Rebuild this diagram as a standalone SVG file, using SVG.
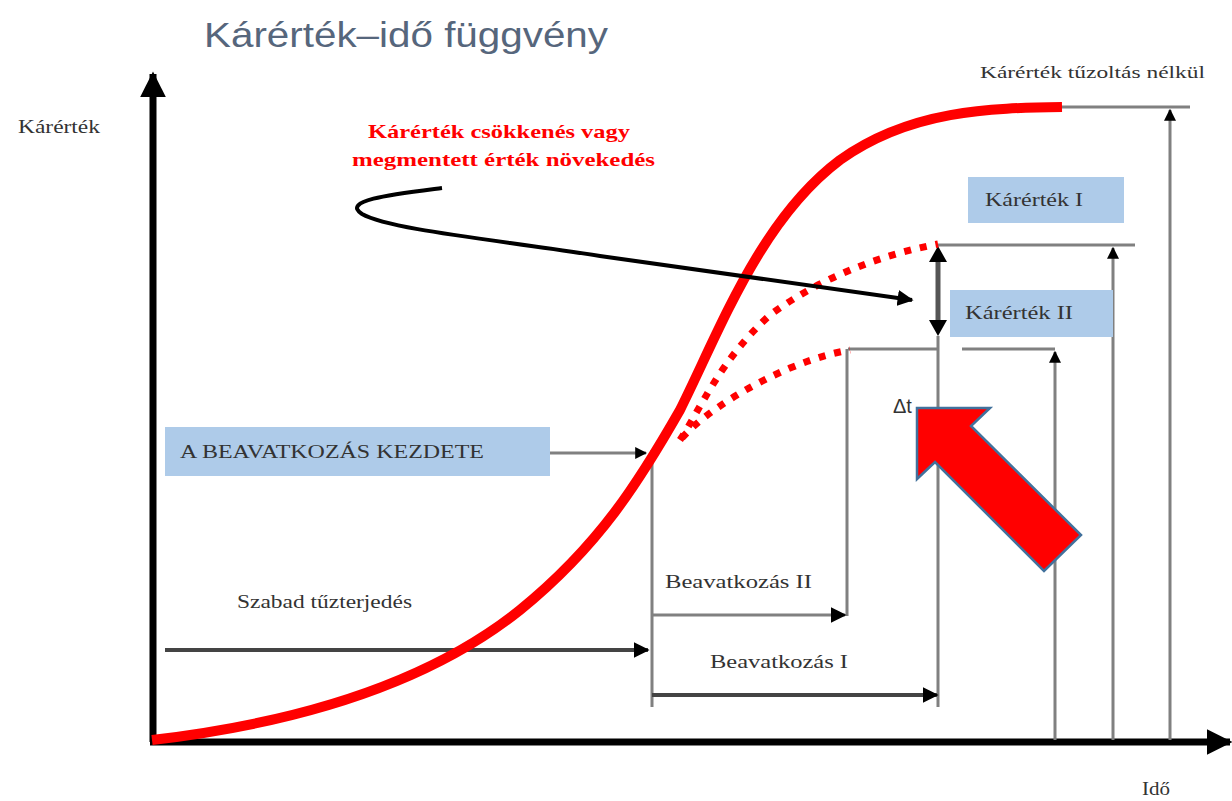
<svg xmlns="http://www.w3.org/2000/svg" width="1232" height="801" viewBox="0 0 1232 801">
<style>
.serif{font-family:"Liberation Serif","DejaVu Serif",serif;fill:#333}
.gl{stroke:#808080;stroke-width:3;fill:none}
.dl{stroke:#444;stroke-width:4;fill:none}
.box{fill:#aecbe9}
.dot{stroke:#ff0000;stroke-width:7;fill:none;stroke-dasharray:7 9}
.red{font-family:"Liberation Serif","DejaVu Serif",serif;font-weight:bold;font-size:19px;fill:#ff0000}
</style>
<defs>
<marker id="ah" viewBox="0 0 10 10" refX="9" refY="5" markerWidth="5" markerHeight="5" orient="auto" markerUnits="userSpaceOnUse"><path d="M0 0 L10 5 L0 10 z" fill="#000"/></marker>
<marker id="ahs" viewBox="0 0 10 10" refX="9" refY="5" markerWidth="12" markerHeight="12" orient="auto" markerUnits="userSpaceOnUse"><path d="M0 0 L10 5 L0 10 z" fill="#000"/></marker>
<marker id="ahm" viewBox="0 0 10 10" refX="9" refY="5" markerWidth="16" markerHeight="16" orient="auto" markerUnits="userSpaceOnUse"><path d="M0 0 L10 5 L0 10 z" fill="#000"/></marker>
<marker id="ahb" viewBox="0 0 10 10" refX="9" refY="5" markerWidth="26" markerHeight="26" orient="auto" markerUnits="userSpaceOnUse"><path d="M0 0 L10 5 L0 10 z" fill="#000"/></marker>
</defs>

<text x="204" y="47" font-family="Liberation Sans, Arial, sans-serif" font-size="35" fill="#56667c" textLength="404" lengthAdjust="spacingAndGlyphs">Kárérték–idő függvény</text>

<g id="axes">
<line x1="153" y1="742" x2="153" y2="74" stroke="#000" stroke-width="7" marker-end="url(#ahb)"/>
<line x1="150" y1="742" x2="1230" y2="742" stroke="#000" stroke-width="7" marker-end="url(#ahb)"/>
<text class="serif" x="18" y="133" font-size="18" textLength="82" lengthAdjust="spacingAndGlyphs">Kárérték</text>
<text class="serif" x="1142" y="795" font-size="18" textLength="28" lengthAdjust="spacingAndGlyphs">Idő</text>
</g>

<g id="connectors">
<path class="gl" d="M1060 107 H1190"/>
<path class="gl" d="M1170 740 V110" marker-end="url(#ahs)"/>
<path class="gl" d="M938 245 H1135"/>
<path class="gl" d="M1113 740 V248" marker-end="url(#ahs)"/>
<path class="gl" d="M848 349 H938"/>
<path class="gl" d="M962 349 H1055"/>
<path class="gl" d="M1055 740 V352" marker-end="url(#ahs)"/>
<path class="gl" d="M938 336 V707"/>
<path class="gl" d="M847 349 V616" stroke="#aaa"/>
<path class="gl" d="M652 450 V707"/>
<path class="gl" d="M550 453 H646" marker-end="url(#ahs)"/>
<path class="dl" d="M165 650 H648" marker-end="url(#ahm)"/>
<path class="gl" d="M652 615 H845" stroke-width="5" marker-end="url(#ahm)"/>
<path class="dl" d="M652 695 H937" marker-end="url(#ahm)"/>
<line x1="938" y1="252" x2="938" y2="330" stroke="#555" stroke-width="5"/>
<path d="M938 246 L929 262 L947 262 z" fill="#000"/>
<path d="M938 336 L929 320 L947 320 z" fill="#000"/>
<path class="dot" d="M680 440 C 700 410, 720 360, 770 315 C 820 278, 880 255, 938 244"/>
<path class="dot" d="M682 438 C 705 412, 750 385, 790 368 C 815 358, 832 353, 850 350"/>
<path d="M152 740 C 280 725, 420 690, 520 610 C 600 545, 640 480, 680 410 C 720 330, 760 220, 840 160 C 910 110, 990 108, 1062 107" fill="none" stroke="#ff0000" stroke-width="10"/>
<path d="M442 188 C 395 194, 340 200, 362 214 C 390 230, 500 240, 600 256 L 912 300" fill="none" stroke="#000" stroke-width="4" marker-end="url(#ahm)"/>
</g>

<g id="n-tuzoltas"><text class="serif" x="980" y="78" font-size="17" textLength="225" lengthAdjust="spacingAndGlyphs">Kárérték tűzoltás  nélkül</text></g>

<g id="n-red">
<text class="red" x="368" y="138" textLength="262" lengthAdjust="spacingAndGlyphs">Kárérték csökkenés vagy</text>
<text class="red" x="352" y="166" textLength="303" lengthAdjust="spacingAndGlyphs">megmentett  érték növekedés</text>
</g>

<g id="n-k1"><rect class="box" x="968" y="177" width="156" height="46"/><text class="serif" x="985" y="206" font-size="19" textLength="98" lengthAdjust="spacingAndGlyphs">Kárérték I</text></g>
<g id="n-k2"><rect class="box" x="950" y="290" width="163" height="47"/><text class="serif" x="965" y="319" font-size="19" textLength="108" lengthAdjust="spacingAndGlyphs">Kárérték II</text></g>
<g id="n-kezdete"><rect class="box" x="165" y="427" width="385" height="49"/><text class="serif" x="180" y="458" font-size="19" textLength="304" lengthAdjust="spacingAndGlyphs">A BEAVATKOZÁS  KEZDETE</text></g>
<g id="n-szabad"><text class="serif" x="237" y="608" font-size="18" textLength="175" lengthAdjust="spacingAndGlyphs">Szabad tűzterjedés</text></g>
<g id="n-b2"><text class="serif" x="665" y="588" font-size="18" textLength="147" lengthAdjust="spacingAndGlyphs">Beavatkozás  II</text></g>
<g id="n-b1"><text class="serif" x="710" y="668" font-size="18" textLength="138" lengthAdjust="spacingAndGlyphs">Beavatkozás  I</text></g>
<g id="n-dt"><text x="893" y="413" font-family="Liberation Sans, sans-serif" font-size="20" fill="#333">Δt</text></g>

<g id="n-bigarrow">
<path d="M917 408 L990 408 L971 426 L1081 535 L1044 571 L935 462 L917 479 z" fill="#ff0000" stroke="#41719c" stroke-width="2.5"/>
</g>
</svg>
